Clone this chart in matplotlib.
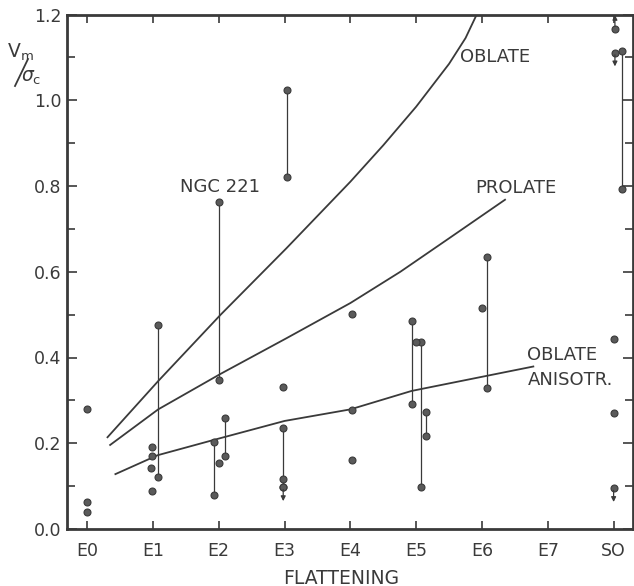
import matplotlib
matplotlib.use('Agg')
import matplotlib.pyplot as plt
from matplotlib.lines import Line2D
import numpy as np

plt.rcParams['font.family'] = ['DejaVu Sans']
plt.rcParams['mathtext.fontset'] = 'dejavusans'

# categories on the x axis
cats = ['E0', 'E1', 'E2', 'E3', 'E4', 'E5', 'E6', 'E7', 'SO']

# model curves (x in category units)
oblate_x = [0.31, 1.08, 2.03, 3.03, 4.0, 4.5, 5.0, 5.5, 5.75, 5.92]
oblate_y = [0.214, 0.345, 0.5, 0.655, 0.81, 0.895, 0.985, 1.085, 1.145, 1.2]
prolate_x = [0.35, 1.08, 2.03, 3.03, 4.0, 4.76, 5.5, 6.35]
prolate_y = [0.196, 0.279, 0.362, 0.445, 0.527, 0.600, 0.678, 0.768]
aniso_x = [0.43, 1.07, 1.93, 3.0, 4.0, 4.93, 6.0, 6.78]
aniso_y = [0.128, 0.172, 0.208, 0.252, 0.279, 0.322, 0.355, 0.379]

# single galaxies (no range)
pt_x = [0.0, 0.0, 0.0, 0.98, 0.98, 0.97, 0.99, 2.01, 2.98, 2.98, 4.02, 4.02, 4.02,
        5.0, 6.0, 8.0, 8.0]
pt_y = [0.279, 0.062, 0.039, 0.192, 0.170, 0.142, 0.089, 0.155, 0.331, 0.117,
        0.502, 0.278, 0.161, 0.435, 0.515, 0.443, 0.270]

# galaxies with two values joined by a line
pair_x = [1.07, 1.93, 2.0, 2.09, 3.03, 2.98, 4.93, 5.08, 5.15, 6.07, 8.12]
pair_top = [0.476, 0.202, 0.763, 0.258, 1.023, 0.235, 0.484, 0.435, 0.274, 0.634, 1.114]
pair_bot = [0.122, 0.079, 0.348, 0.170, 0.821, 0.097, 0.291, 0.099, 0.217, 0.330, 0.793]

# upper limits (arrow down) and lower limits (arrow up)
upper_x = [2.98, 8.0, 8.02]
upper_y = [0.097, 0.095, 1.111]
lower_x = [8.02]
lower_y = [1.167]

ink = '#3a3a3a'
dot = '#5a5a5a'

fig = plt.figure(figsize=(6.34, 5.86), dpi=100)
ax = fig.add_axes([66.7 / 634, 57 / 586, (632.7 - 66.7) / 634, (529 - 14.5) / 586])

ax.plot(oblate_x, oblate_y, color=ink, lw=1.3)
ax.plot(prolate_x, prolate_y, color=ink, lw=1.3)
ax.plot(aniso_x, aniso_y, color=ink, lw=1.3)

for x, t, b in zip(pair_x, pair_top, pair_bot):
    ax.plot([x, x], [t, b], color=ink, lw=0.9, zorder=2)
ax.plot(pair_x, pair_top, 'o', ms=5, mfc=dot, mec=ink, mew=0.8, zorder=3)
ax.plot(pair_x, pair_bot, 'o', ms=5, mfc=dot, mec=ink, mew=0.8, zorder=3)
ax.plot(pt_x, pt_y, 'o', ms=5, mfc=dot, mec=ink, mew=0.8, zorder=3)
ax.plot(upper_x + lower_x, upper_y + lower_y, 'o', ms=5, mfc=dot, mec=ink, mew=0.8, zorder=3)

# little arrows for the limits
for x, y in zip(upper_x, upper_y):
    ax.annotate('', xy=(x, y - 0.032), xytext=(x, y - 0.005),
                arrowprops=dict(arrowstyle='-|>', color=ink, lw=0.9,
                                mutation_scale=7, shrinkA=0, shrinkB=0))
for x, y in zip(lower_x, lower_y):
    ax.annotate('', xy=(x, y + 0.032), xytext=(x, y + 0.005),
                arrowprops=dict(arrowstyle='-|>', color=ink, lw=0.9,
                                mutation_scale=7, shrinkA=0, shrinkB=0))

ax.set_xlim(-0.31, 8.29)
ax.set_ylim(0, 1.2)
ax.set_xticks(range(len(cats)))
ax.set_xticklabels(cats)
ax.set_yticks([0.0, 0.2, 0.4, 0.6, 0.8, 1.0, 1.2])
ax.set_yticklabels(['0.0', '0.2', '0.4', '0.6', '0.8', '1.0', '1.2'])
ax.set_yticks(np.arange(0.1, 1.2, 0.2), minor=True)
ax.tick_params(axis='x', which='major', direction='in', top=True, length=6, width=1.2,
               pad=9, labelsize=12.5, colors=ink)
ax.tick_params(axis='y', which='major', direction='in', right=True, length=7, width=1.2,
               pad=4, labelsize=12.5, colors=ink)
ax.tick_params(axis='y', which='minor', direction='in', right=True, length=6, width=1.2,
               colors=ink)
for s in ax.spines.values():
    s.set_linewidth(2)
    s.set_color(ink)

ax.text(2.63, 0.798, 'NGC 221', fontsize=13, color=ink, ha='right', va='center')
ax.text(5.67, 1.102, 'OBLATE', fontsize=13, color=ink, va='center')
ax.text(5.90, 0.796, 'PROLATE', fontsize=13, color=ink, va='center')
ax.text(6.69, 0.377, 'OBLATE\nANISOTR.', fontsize=13, color=ink, va='center',
        linespacing=1.5)

fig.text(341 / 634, 1 - 578 / 586, 'FLATTENING', fontsize=13.5, color=ink,
         ha='center', va='center')
fig.text(7 / 634, 1 - 52 / 586, r'$\mathrm{V_m}$', fontsize=13.5, color=ink, va='center')
fig.text(21 / 634, 1 - 78 / 586, r'$\sigma_\mathrm{c}$', fontsize=13.5, color=ink, va='center')
fig.add_artist(Line2D([15 / 634, 28 / 634], [1 - 86 / 586, 1 - 59 / 586],
                      color=ink, lw=1.3, transform=fig.transFigure))

fig.savefig('out.png', dpi=100)
